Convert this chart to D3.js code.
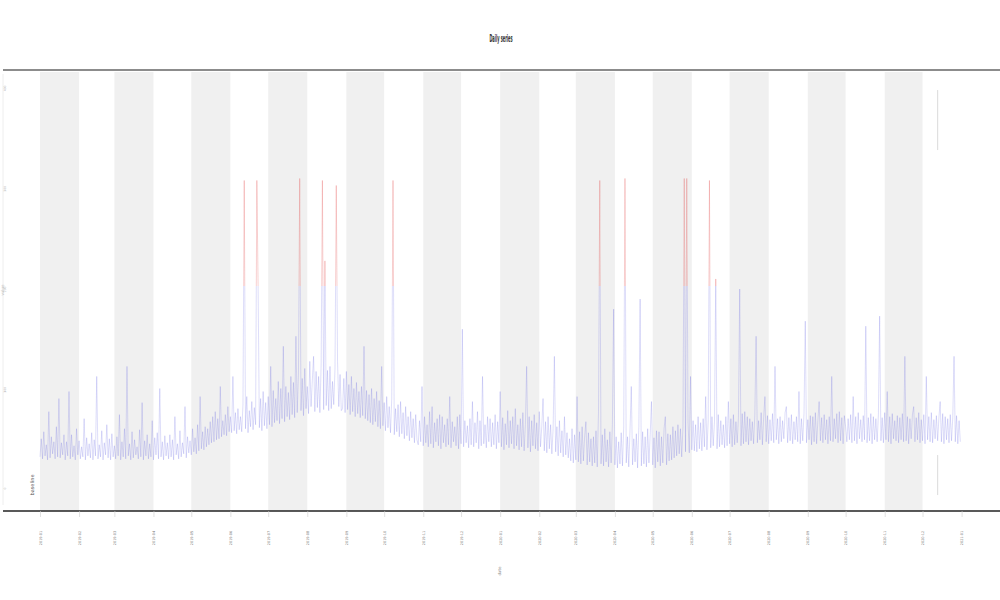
<!DOCTYPE html>
<html>
<head>
<meta charset="utf-8">
<script src="https://cdn.jsdelivr.net/npm/d3@7"></script>
<style>
  body { margin: 0; background: #fff; }
  text { font-family: "DejaVu Sans", sans-serif; }
</style>
</head>
<body>
<svg id="chart" width="1000" height="600"></svg>
<script>
"use strict";
// daily readings
var startDate = new Date(2019, 0, 1);
var values = [
  30,48,28,55,31,42,27,75,29,50,33,45,28,60,30,88,29,44,32,52,
  27,45,31,95,28,52,30,41,27,58,32,46,28,40,30,68,27,49,31,43,
  29,54,27,47,31,110,28,42,30,56,27,44,32,62,29,48,27,53,30,41,
  28,50,31,72,27,45,30,58,28,120,31,43,27,55,29,47,32,40,28,57,
  30,84,27,46,31,52,28,43,30,66,27,49,32,54,28,98,30,45,27,51,
  31,44,28,52,30,47,27,70,32,43,28,56,30,44,33,80,29,50,34,46,
  32,58,35,49,33,62,36,90,38,55,37,60,40,58,42,65,44,70,45,75,
  47,68,48,100,50,66,52,72,51,80,55,70,54,110,56,74,53,78,57,70,
  55,82,305,58,90,54,76,60,85,57,79,62,305,200,59,88,56,95,61,84,
  58,90,62,120,60,96,64,88,66,105,63,98,68,140,65,100,70,94,67,110,
  72,104,69,150,74,112,307,76,108,71,118,78,100,73,125,80,106,130,75,115,
  79,110,74,122,305,77,225,81,116,76,120,78,105,82,118,300,125,80,112,76,
  78,108,74,115,77,102,72,110,75,98,70,104,73,95,69,100,71,140,68,96,
  66,92,64,98,62,88,65,95,60,86,58,120,61,84,56,90,59,80,54,88,
  305,52,78,55,82,50,85,53,74,48,80,51,70,46,75,49,68,44,72,47,
  42,66,45,100,41,70,44,62,40,75,43,80,39,64,45,68,41,72,38,70,
  44,62,40,68,42,90,39,65,45,60,41,70,38,72,43,157,40,66,44,61,
  39,68,42,85,40,64,44,75,38,66,41,110,43,62,39,70,45,68,40,64,
  42,72,38,65,44,95,40,69,37,63,42,76,39,66,43,70,38,78,41,62,
  37,68,40,74,36,62,120,39,70,35,66,41,72,38,64,36,75,40,60,88,
  36,65,34,70,38,62,33,58,130,35,60,31,66,34,56,30,70,32,54,29,
  48,26,58,24,52,27,90,25,55,23,60,26,50,65,22,54,25,48,21,50,
  24,56,20,75,305,23,52,21,58,25,47,20,55,24,62,177,22,50,19,45,
  23,54,21,60,307,24,50,20,57,100,22,48,25,53,19,60,187,21,55,23,
  50,20,58,24,52,85,22,49,19,56,25,55,21,50,24,58,70,22,53,26,
  52,27,60,29,56,31,62,33,58,30,60,307,35,307,64,34,110,37,66,36,
  62,35,70,38,64,36,68,40,90,37,66,305,39,70,41,65,207,38,72,40,
  66,42,62,39,70,41,85,43,68,40,72,42,65,44,69,197,41,73,43,75,
  45,70,42,68,46,65,43,72,150,44,66,47,74,42,69,90,45,71,43,67,
  46,73,44,120,47,68,43,70,45,66,48,74,80,44,69,46,72,43,65,47,
  70,45,95,43,68,46,73,165,44,67,47,71,42,70,45,74,43,66,85,46,
  69,44,72,47,67,43,70,46,110,45,68,48,73,44,75,46,69,43,71,60,
  45,68,47,72,44,90,46,70,43,74,48,67,45,71,47,160,44,69,46,73,
  43,70,47,68,45,72,170,46,69,44,74,47,95,45,70,43,73,48,66,46,
  71,44,69,47,73,45,130,46,70,43,68,48,72,80,45,69,47,74,44,67,
  46,72,43,110,47,70,45,74,44,67,48,71,46,69,85,45,73,43,70,47,
  68,44,72,46,69,130,45,71,43,66,45
];
var threshold = 200;
var yTicks = [0, 100, 200, 300, 400];
var markerDate = new Date(2020, 11, 13);
var titleText = "Daily series";
var xTitle = "date";
var yTitle = "value";
var noteText = "baseline";

var svg = d3.select("#chart");
var W = 1000, H = 600;
var plotTop = 70, plotBottom = 511;

var x = d3.scaleTime().domain([startDate, new Date(2021, 0, 1)]).range([40, 961.6]);
var y = d3.scaleLinear().domain([0, 400]).range([487, 85]);

var data = values.map(function (v, i) {
  return { date: d3.timeDay.offset(startDate, i), value: v };
});

// alternating month bands
var months = d3.timeMonth.range(startDate, new Date(2021, 0, 1));
svg.append("g").selectAll("rect")
  .data(months.filter(function (d, i) { return i % 2 === 0; }))
  .enter().append("rect")
  .attr("x", function (d) { return x(d); })
  .attr("y", plotTop + 2)
  .attr("width", function (d) { return x(d3.timeMonth.offset(d, 1)) - x(d); })
  .attr("height", plotBottom - plotTop - 2)
  .attr("fill", "#f0f0f0");

// frame lines
svg.append("line").attr("x1", 3).attr("x2", 1000).attr("y1", plotTop).attr("y2", plotTop)
  .attr("stroke", "#8c8c8c").attr("stroke-width", 2);
svg.append("line").attr("x1", 3).attr("x2", 1000).attr("y1", plotBottom).attr("y2", plotBottom)
  .attr("stroke", "#222").attr("stroke-width", 1.5);
svg.append("line").attr("x1", 3).attr("x2", 3).attr("y1", plotTop + 4).attr("y2", plotBottom - 6)
  .attr("stroke", "#eee").attr("stroke-width", 1);

// clip paths for threshold colouring
var defs = svg.append("defs");
defs.append("clipPath").attr("id", "below").append("rect")
  .attr("x", 0).attr("width", W).attr("y", y(threshold)).attr("height", H - y(threshold));
defs.append("clipPath").attr("id", "above").append("rect")
  .attr("x", 0).attr("width", W).attr("y", 0).attr("height", y(threshold));

var line = d3.line()
  .x(function (d) { return x(d.date); })
  .y(function (d) { return y(d.value); });

svg.append("path").datum(data)
  .attr("clip-path", "url(#below)")
  .attr("d", line)
  .style("fill", "none")
  .style("stroke", "#4646e0")
  .style("stroke-opacity", 0.3)
  .style("stroke-width", 0.6);
svg.append("path").datum(data)
  .attr("clip-path", "url(#above)")
  .attr("d", line)
  .style("fill", "none")
  .style("stroke", "#e03c3c")
  .style("stroke-opacity", 0.4)
  .style("stroke-width", 0.6);

// faint marker line near the end
svg.append("line")
  .attr("x1", x(markerDate)).attr("x2", x(markerDate))
  .attr("y1", y(395)).attr("y2", y(-13))
  .attr("stroke", "#999").attr("stroke-opacity", 0.6).attr("stroke-width", 0.6)
  .attr("stroke-dasharray", "60,305,40");

// x axis
var xAxis = d3.axisBottom(x).ticks(d3.timeMonth.every(1)).tickSize(6).tickFormat(d3.timeFormat("%Y-%m"));
var gx = svg.append("g").attr("transform", "translate(0," + plotBottom + ")").call(xAxis);
gx.select(".domain").remove();
gx.selectAll(".tick line").attr("stroke", "#ccc").attr("stroke-width", 0.6);
gx.selectAll(".tick text")
  .attr("fill", "#777").style("font-size", "3.5px")
  .attr("text-anchor", "middle")
  .attr("transform", "translate(0,27) rotate(-90)")
  .attr("dy", "0.3em").attr("y", 0);

// y axis (tiny labels at the very left)
var yAxis = d3.axisLeft(y).tickValues(yTicks).tickSize(0).tickPadding(0);
var gy = svg.append("g").attr("transform", "translate(5,0)").call(yAxis);
gy.select(".domain").remove();
gy.selectAll(".tick text")
  .attr("fill", "#aaa").style("font-size", "3px")
  .attr("transform", function () { return "rotate(-90," + d3.select(this).attr("x") + ",0)"; });

// titles
svg.append("text").attr("x", 0).attr("y", 0)
  .attr("transform", "translate(501,38) scale(0.32,1)")
  .attr("text-anchor", "middle").attr("dy", "0.35em")
  .style("font-size", "11px").style("font-weight", "bold").attr("fill", "#333")
  .text(titleText);
svg.append("text")
  .attr("transform", "translate(500,571) rotate(-90)")
  .attr("text-anchor", "middle").attr("dy", "0.35em")
  .style("font-size", "4px").attr("fill", "#888")
  .text(xTitle);
svg.append("text")
  .attr("transform", "translate(3,290) rotate(-90)")
  .attr("text-anchor", "middle").attr("dy", "0.35em")
  .style("font-size", "4px").attr("fill", "#bbb")
  .text(yTitle);
svg.append("text")
  .attr("transform", "translate(32,485) rotate(-90)")
  .attr("text-anchor", "middle").attr("dy", "0.35em")
  .style("font-size", "5px").attr("fill", "#555")
  .text(noteText);
</script>
</body>
</html>
